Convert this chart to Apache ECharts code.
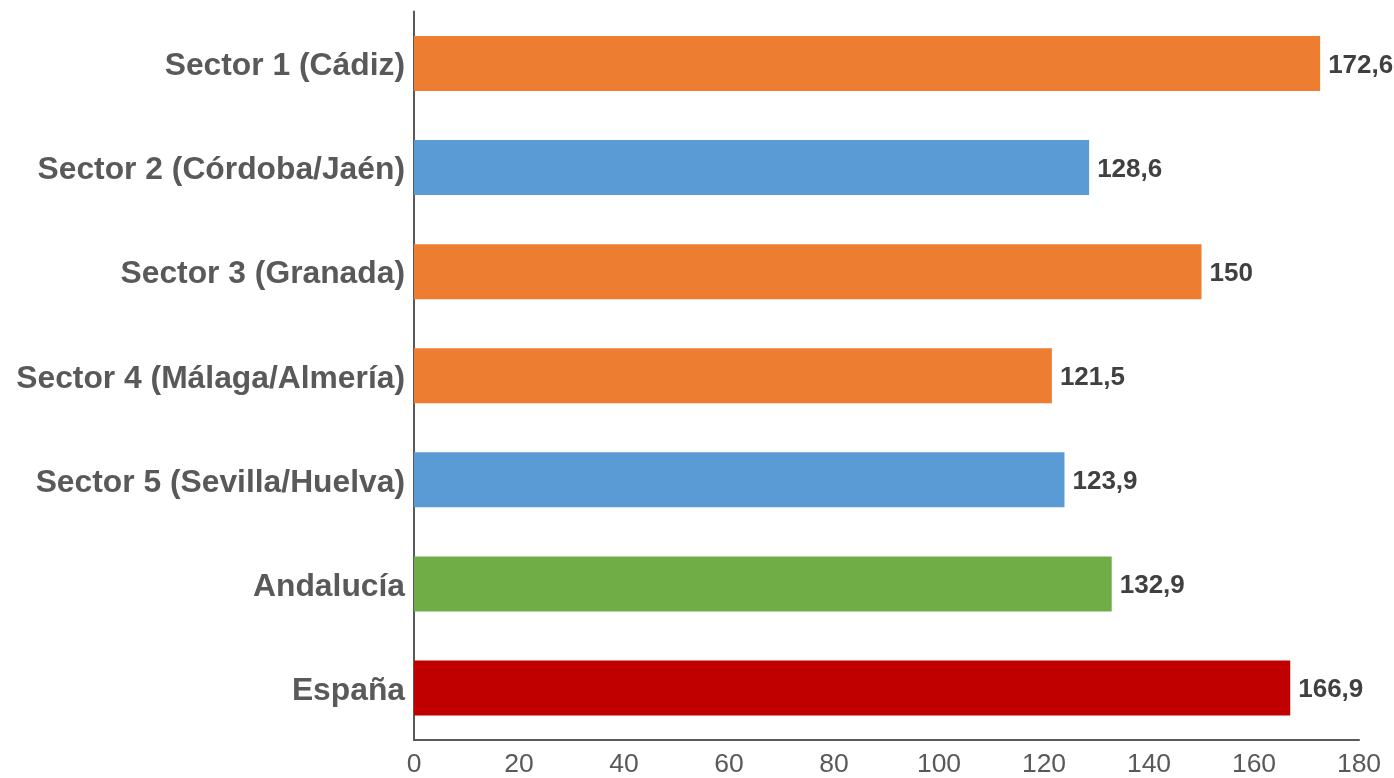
<!DOCTYPE html>
<html>
<head>
<meta charset="UTF-8">
<title>Sectores</title>
<script src="https://cdn.jsdelivr.net/npm/echarts@6/dist/echarts.min.js"></script>
<style>
html, body { margin: 0; padding: 0; background: #fff; }
#main { width: 1394px; height: 778px; }
</style>
</head>
<body>
<div id="main"></div>
<script type="text/javascript">
var categories = ['Sector 1 (Cádiz)', 'Sector 2 (Córdoba/Jaén)', 'Sector 3 (Granada)', 'Sector 4 (Málaga/Almería)', 'Sector 5 (Sevilla/Huelva)', 'Andalucía', 'España'];
var values = [172.6, 128.6, 150, 121.5, 123.9, 132.9, 166.9];
var barColors = ['#ED7D31', '#5B9BD5', '#ED7D31', '#ED7D31', '#5B9BD5', '#70AD47', '#C00000'];

var myChart = echarts.init(document.getElementById('main'));

var option = {
    animation: false,
    textStyle: { fontFamily: 'Liberation Sans' },
    grid: { left: 414, right: 35, top: 11.5, bottom: 38 },
    xAxis: {
        type: 'value',
        min: 0,
        max: 180,
        interval: 20,
        splitLine: { show: false },
        axisTick: { show: false },
        axisLine: { show: true, lineStyle: { color: '#595959', width: 2 } },
        axisLabel: { color: '#595959', fontSize: 26.5, margin: 11, hideOverlap: false }
    },
    yAxis: {
        type: 'category',
        inverse: true,
        data: categories,
        axisTick: { show: false },
        axisLine: { show: true, lineStyle: { color: '#595959', width: 2 } },
        // short line box, so the text sits a little below the band centre
        axisLabel: { color: '#595959', fontSize: 31.8, fontWeight: 'bold', margin: 9, interval: 0, verticalAlign: 'top', lineHeight: 6 }
    },
    series: [{
        type: 'bar',
        barWidth: 55,
        data: values.map(function (v, i) {
            return { value: v, itemStyle: { color: barColors[i] } };
        }),
        label: {
            show: true,
            position: 'right',
            distance: 8,
            offset: [0, 2],
            color: '#404040',
            fontSize: 26,
            fontWeight: 'bold',
            formatter: function (p) { return String(p.value).replace('.', ','); }
        }
    }]
};

myChart.setOption(option);
</script>
</body>
</html>
